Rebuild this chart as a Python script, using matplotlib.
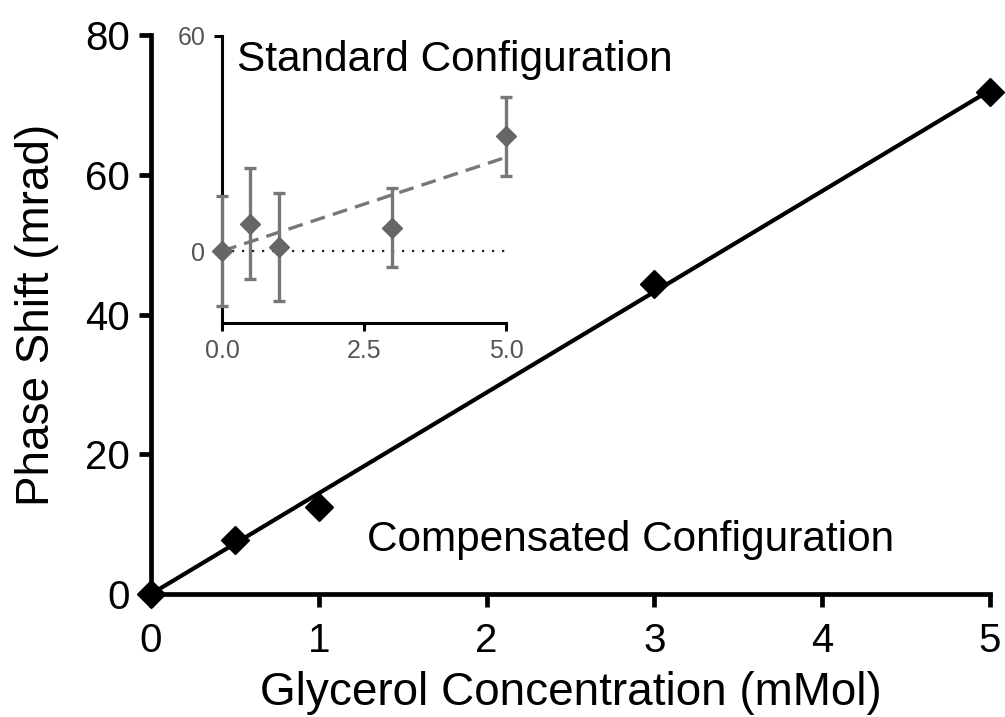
import numpy as np
import matplotlib
matplotlib.use("Agg")
import matplotlib.pyplot as plt

plt.rcParams['font.family'] = ['Liberation Sans', 'DejaVu Sans']

# compensated configuration (main plot)
conc = [0, 0.5, 1, 3, 5]
shift_comp = [0, 7.7, 12.4, 44.3, 71.8]

# standard configuration (inset)
shift_std = [0, 7.6, 1.1, 6.5, 32]
err_std = [15.3, 15.5, 15.0, 11.0, 11.0]

x_ticks = [0, 1, 2, 3, 4, 5]
y_ticks = [0, 20, 40, 60, 80]
in_x_ticks = [0, 2.5, 5]
in_y_ticks = [0, 60]


def fit0(x, y):
    # least squares line through the origin
    x = np.asarray(x, float)
    y = np.asarray(y, float)
    return (x * y).sum() / (x * x).sum()


fig = plt.figure(figsize=(10.05, 7.17), dpi=100)
ax = fig.add_axes([0.1502, 0.1715, 0.8348, 0.7797])

k1 = fit0(conc, shift_comp)
xx = np.array([0, 5])
ax.plot(xx, k1 * xx, color='black', lw=3, solid_capstyle='butt', clip_on=False)
ax.plot(conc, shift_comp, 'D', color='black', ms=14, clip_on=False, zorder=5)

ax.set_xlim(0, 5)
ax.set_ylim(0, 80)
ax.set_xticks(x_ticks)
ax.set_yticks(y_ticks)
for s in ['top', 'right']:
    ax.spines[s].set_visible(False)
for s in ['left', 'bottom']:
    ax.spines[s].set_linewidth(3.4)
ax.tick_params(width=3.4, length=9, labelsize=29, pad=6)
ax.tick_params(axis='x', pad=11)
ax.set_xlabel("Glycerol Concentration (mMol)", fontsize=33, labelpad=8)
ax.set_ylabel("Phase Shift (mrad)", fontsize=33, labelpad=19)
ax.text(1.287, 7.7, "Compensated Configuration", fontsize=30.5, ha='left', va='center')

# inset
axin = fig.add_axes([0.2209, 0.5499, 0.2826, 0.3999])
k2 = fit0(conc, shift_std)
axin.plot(xx, k2 * xx, ls=(0, (4.5, 2.5)), color='#777777', lw=2.4)
axin.plot(xx, [0, 0], ls=(0, (1, 3.5)), color='#222222', lw=1.6)
axin.errorbar(conc, shift_std, yerr=err_std, fmt='D', color='#666666',
              ecolor='#777777', elinewidth=2.4, capsize=4.5, capthick=2.4,
              ms=10, clip_on=False, zorder=5)
axin.set_xlim(0, 5)
axin.set_ylim(-20, 60)
axin.set_xticks(in_x_ticks)
axin.set_xticklabels(["0.0", "2.5", "5.0"])
axin.set_yticks(in_y_ticks)
axin.patch.set_alpha(0)
for s in ['top', 'right']:
    axin.spines[s].set_visible(False)
for s in ['left', 'bottom']:
    axin.spines[s].set_linewidth(2.2)
axin.tick_params(width=2.2, length=6, labelsize=18, labelcolor='#555555', pad=6)
axin.text(0.053, 0.916, "Standard Configuration", fontsize=30.5, ha='left', va='center',
          transform=axin.transAxes)

fig.savefig("out.png", dpi=100)
